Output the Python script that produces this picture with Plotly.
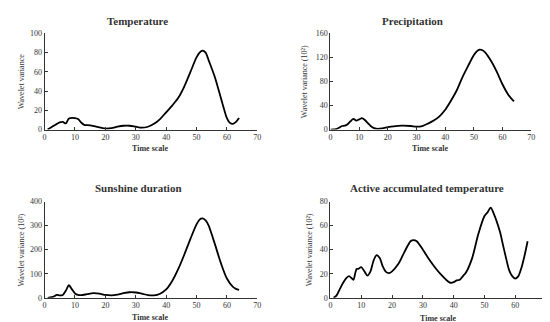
import plotly.graph_objects as go

# Temperature
t_x = [1, 3, 5, 6, 7, 8, 10, 11, 12, 13, 15, 17, 20, 22, 24, 26, 28, 30, 32, 34, 36, 38, 40, 42, 44, 46, 48, 50, 51, 52, 53, 54, 56, 58, 59, 60, 61, 62, 63, 64]
t_y = [0, 4, 7.5, 8, 6.5, 11.5, 12, 11, 7.5, 5, 4.5, 3, 1, 1.5, 3, 4, 4, 3, 2, 3, 6, 11, 18, 25, 33, 45, 60, 75, 80, 82, 80, 72, 55, 33, 22, 12, 7, 6, 8, 12]

# Precipitation
p_x = [0, 2, 3, 4, 5, 6, 7, 8, 9, 10, 11, 12, 13, 14, 15, 16, 18, 20, 22, 25, 28, 30, 32, 34, 36, 38, 40, 42, 44, 46, 48, 50, 51, 52, 53, 54, 56, 58, 60, 62, 63, 64]
p_y = [0, 1, 3, 6, 6.5, 9, 14, 18, 15, 17, 19, 16, 11, 6, 3, 1.5, 2, 4, 5.5, 6.5, 6, 5, 6, 10, 15, 22, 33, 48, 65, 87, 106, 124, 130, 133, 132, 128, 114, 96, 75, 58, 52, 47]

# Sunshine duration
s_x = [1, 3, 4, 5, 6, 7, 8, 9, 10, 11, 12, 14, 16, 18, 20, 22, 24, 26, 28, 30, 32, 34, 36, 38, 40, 42, 44, 46, 48, 50, 51, 52, 53, 54, 56, 58, 60, 62, 63, 64]
s_y = [0, 5, 12, 10, 12, 30, 52, 35, 18, 12, 11, 15, 19, 17, 12, 10, 13, 19, 23, 22, 17, 11, 10, 17, 35, 70, 120, 180, 245, 305, 325, 330, 322, 300, 225, 145, 80, 45, 37, 33]

# Active accumulated temperature
a_x = [1, 2, 3, 4, 5, 6, 7, 7.5, 8, 8.5, 9, 10, 11, 12, 13, 14, 15, 16, 17, 18, 19, 20, 22, 24, 26, 27, 28, 30, 32, 34, 36, 38, 39, 40, 41, 42, 43, 44, 46, 48, 50, 51, 52, 53, 55, 56, 57, 58, 59, 60, 61, 62, 63, 64]
a_y = [0, 2, 7, 12, 16, 18, 16, 15, 20, 24, 24, 25.5, 22, 18.5, 22, 31, 35.5, 33, 26, 21.5, 20.5, 22, 28, 38, 47, 48, 47, 40, 32, 25, 19, 14, 12.5, 13, 14.5, 15, 18, 21, 33, 53, 68, 71, 75, 70, 55, 44, 33, 23, 18, 16, 18, 25, 35, 47]

titles = ["Temperature", "Precipitation", "Sunshine duration", "Active accumulated temperature"]
ytitles = ["Wavelet variance", "Wavelet variance (10²)", "Wavelet variance (10²)", "Wavelet variance (10²)"]
yranges = [[0, 100], [0, 160], [0, 400], [0, 80]]
ydticks = [20, 40, 100, 20]
xticks = [0, 10, 20, 30, 40, 50, 60, 70]

W, H = 550, 322
FONT = "Liberation Serif"
# panel pixel boxes: (left, right, top, bottom)
boxes = [(35, 250, 22, 121), (324, 527, 22, 121), (35, 250, 195, 294), (324, 542, 195, 294)]
title_pos = [(129, 9), (407, 9), (130, 181), (422, 181)]
xtitle_y = [140, 140, 314, 315]
ytitle_x = [12, 298, 12, 303]

series = [(t_x, t_y), (p_x, p_y), (s_x, s_y), (a_x, a_y)]

fig = go.Figure()
annotations = []
for i, ((xs, ys), box) in enumerate(zip(series, boxes)):
    n = "" if i == 0 else str(i + 1)
    fig.add_trace(go.Scatter(x=xs, y=ys, mode="lines", xaxis="x" + n, yaxis="y" + n,
                             line=dict(color="black", width=1.8, shape="spline", smoothing=0.8),
                             showlegend=False, hoverinfo="skip"))
    l, r, t, b = box
    axstyle = dict(showgrid=False, zeroline=False, showline=True, linecolor="#333333", linewidth=1,
                   ticks="inside", ticklen=3, tickcolor="#333333",
                   tickfont=dict(family=FONT, size=8, color="#333333"))
    fig.update_layout(**{
        "xaxis" + n: dict(domain=[l / W, r / W], anchor="y" + n, range=[0, 70],
                          tickvals=xticks, **axstyle),
        "yaxis" + n: dict(domain=[1 - b / H, 1 - t / H], anchor="x" + n, range=yranges[i],
                          dtick=ydticks[i], tick0=0, **axstyle),
    })
    tx, ty = title_pos[i]
    annotations.append(dict(text="<b>" + titles[i] + "</b>", x=tx / W, y=1 - ty / H, xref="paper", yref="paper",
                            showarrow=False, font=dict(family=FONT, size=11, color="#333333"),
                            xanchor="center", yanchor="middle"))
    annotations.append(dict(text="<b>Time scale</b>", x=(l + r) / 2 / W, y=1 - xtitle_y[i] / H,
                            xref="paper", yref="paper", showarrow=False,
                            font=dict(family=FONT, size=8, color="#333333"),
                            xanchor="center", yanchor="middle"))
    annotations.append(dict(text=ytitles[i], x=ytitle_x[i] / W, y=1 - (t + b) / 2 / H,
                            xref="paper", yref="paper", showarrow=False, textangle=-90,
                            font=dict(family=FONT, size=8, color="#333333"),
                            xanchor="center", yanchor="middle"))

fig.update_layout(width=W, height=H, margin=dict(l=0, r=0, t=0, b=0),
                  plot_bgcolor="white", paper_bgcolor="white", annotations=annotations)
fig.write_html("out.html")
